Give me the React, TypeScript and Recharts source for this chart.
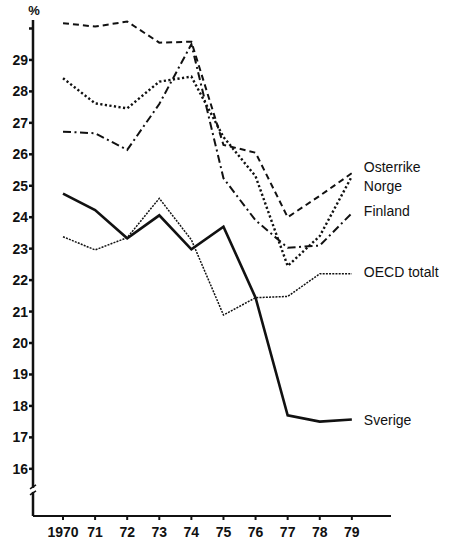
import { LineChart, Line, XAxis, YAxis, LabelList, ReferenceDot } from 'recharts';

const years = [1970, 1971, 1972, 1973, 1974, 1975, 1976, 1977, 1978, 1979];
const sverige = [24.75, 24.23, 23.33, 24.06, 22.98, 23.7, 21.44, 17.7, 17.5, 17.57];
const osterrike = [30.17, 30.06, 30.22, 29.55, 29.58, 26.3, 26.05, 24.0, 24.68, 25.4];
const norge = [28.42, 27.62, 27.46, 28.31, 28.47, 26.55, 25.3, 22.45, 23.4, 25.3];
const finland = [26.72, 26.67, 26.14, 27.6, 29.5, 25.24, 23.9, 23.03, 23.1, 24.13];
const oecd = [23.38, 22.96, 23.35, 24.6, 23.28, 20.89, 21.44, 21.48, 22.2, 22.2];

const yTicks = [16, 17, 18, 19, 20, 21, 22, 23, 24, 25, 26, 27, 28, 29, 30];
const xDomain = [1969.065, 1980.22];
const yDomain = [14.5, 30.27];
const breakAt = 15.33;

const data = years.map((year, i) => ({
  year,
  sverige: sverige[i],
  osterrike: osterrike[i],
  norge: norge[i],
  finland: finland[i],
  oecd: oecd[i],
}));

const series = [
  { key: 'osterrike', name: 'Osterrike', dash: '6 4', width: 2, labelDy: -6 },
  { key: 'norge', name: 'Norge', dash: '2.2 2.4', width: 2.4, labelDy: 10 },
  { key: 'finland', name: 'Finland', dash: '8 3.5 2 3.5', width: 2, labelDy: -2 },
  { key: 'oecd', name: 'OECD totalt', dash: '2 1.2', width: 1.5, labelDy: -2 },
  { key: 'sverige', name: 'Sverige', dash: undefined, width: 2.6, labelDy: 1 },
];

const FONT = '"Liberation Sans", Arial, sans-serif';
const INK = '#111';

function endLabel(name: string, dy: number) {
  return (props: any) => {
    if (props.index !== years.length - 1) return null;
    return (
      <text
        x={Number(props.x) + 12}
        y={Number(props.y) + dy}
        dominantBaseline="central"
        fontFamily={FONT}
        fontSize={14}
        fill={INK}
      >
        {name}
      </text>
    );
  };
}

export default function App() {
  return (
    <div style={{ position: 'absolute', left: 0, top: 0, width: 451, height: 542, background: '#fff' }}>
      <LineChart width={451} height={542} data={data} margin={{ top: 20, right: 60, bottom: 0, left: 0 }}>
        <XAxis
          dataKey="year"
          type="number"
          domain={xDomain}
          ticks={years}
          allowDataOverflow
          height={26}
          stroke={INK}
          strokeWidth={2}
          tickSize={4}
          tickMargin={7}
          tick={{ fill: INK, fontSize: 14, fontWeight: 'bold', fontFamily: FONT }}
          tickFormatter={(v) => (v === 1970 ? '1970' : String(v).slice(2))}
        />
        <YAxis
          type="number"
          domain={yDomain}
          ticks={yTicks}
          allowDataOverflow
          width={33}
          stroke={INK}
          strokeWidth={2.5}
          tickSize={4}
          tickMargin={1}
          tick={{ fill: INK, fontSize: 14, fontWeight: 'bold', fontFamily: FONT }}
          tickFormatter={(v) => (v === 30 ? '' : String(v))}
          label={{
            content: (p: any) => (
              <text
                x={p.viewBox.x + p.viewBox.width + 1}
                y={p.viewBox.y - 5}
                textAnchor="middle"
                fontFamily={FONT}
                fontWeight="bold"
                fontSize={13}
                fill={INK}
              >
                %
              </text>
            ),
          }}
        />
        <ReferenceDot
          x={xDomain[0]}
          y={breakAt}
          r={0}
          ifOverflow="visible"
          shape={(p: any) => (
            <g stroke={INK} strokeWidth={1.6}>
              <rect x={p.cx - 3} y={p.cy - 2} width={6} height={4} fill="#fff" stroke="none" />
              <line x1={p.cx - 3} y1={p.cy - 1} x2={p.cx + 3} y2={p.cy - 5} />
              <line x1={p.cx - 3} y1={p.cy + 5} x2={p.cx + 3} y2={p.cy + 1} />
            </g>
          )}
        />
        {series.map((s) => (
          <Line
            key={s.key}
            dataKey={s.key}
            type="linear"
            stroke={INK}
            strokeWidth={s.width}
            strokeDasharray={s.dash}
            dot={false}
            activeDot={false}
            isAnimationActive={false}
          >
            <LabelList dataKey={s.key} content={endLabel(s.name, s.labelDy)} />
          </Line>
        ))}
      </LineChart>
    </div>
  );
}
